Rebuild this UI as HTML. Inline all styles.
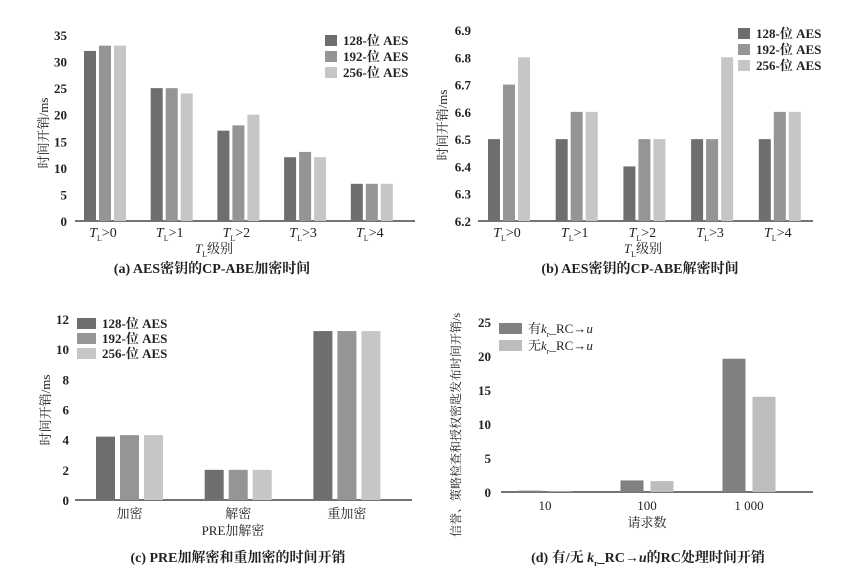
<!DOCTYPE html>
<html><head><meta charset="utf-8">
<style>
html,body{margin:0;padding:0;background:#fff;}
svg{display:block;font-family:"Liberation Serif","Noto Serif CJK SC",serif;}
</style></head>
<body>
<svg id="s" width="849" height="583" viewBox="0 0 849 583" xmlns="http://www.w3.org/2000/svg"></svg>
<script>
const colors3 = ['#6e6e6e','#959595','#c6c6c6'];
const colors2 = ['#808080','#bdbdbd'];
const seriesNames = ['128-位 AES','192-位 AES','256-位 AES'];

const catsA = ['>0','>1','>2','>3','>4'];
const aS1 = [32,25,17,12,7];
const aS2 = [33,25,18,13,7];
const aS3 = [33,24,20,12,7];
const aTicks = [0,5,10,15,20,25,30,35];

const catsB = ['>0','>1','>2','>3','>4'];
const bS1 = [6.5,6.5,6.4,6.5,6.5];
const bS2 = [6.7,6.6,6.5,6.5,6.6];
const bS3 = [6.8,6.6,6.5,6.8,6.6];
const bTicks = [6.2,6.3,6.4,6.5,6.6,6.7,6.8,6.9];

const catsC = ['加密','解密','重加密'];
const cS1 = [4.2,2,11.2];
const cS2 = [4.3,2,11.2];
const cS3 = [4.3,2,11.2];
const cTicks = [0,2,4,6,8,10,12];

const catsD = ['10','100','1 000'];
const dS1 = [0.2,1.7,19.6];
const dS2 = [0.05,1.6,14];
const dTicks = [0,5,10,15,20,25];

const NS='http://www.w3.org/2000/svg';
const svg=document.getElementById('s');
function mk(tag,attrs,parent){const e=document.createElementNS(NS,tag);for(const k in attrs)e.setAttribute(k,attrs[k]);(parent||svg).appendChild(e);return e;}
function txt(s,attrs,parent){const e=mk('text',attrs,parent);e.textContent=s;return e;}

function chart(o){
  const g=mk('g',{});
  
  
  const y=v=>o.y0-(v-o.vmin)/(o.vmax-o.vmin)*(o.y0-o.ytop);
  o.ticks.forEach(t=>{
    const l=txt(String(t),{x:o.tx,y:y(t)+5,'text-anchor':'end','font-size':13,'font-weight':'bold',fill:'#222'},g);
    
    
  });
  const ax=mk('line',{x1:o.ax1,x2:o.ax2,y1:o.y0,y2:o.y0,stroke:'#222','stroke-width':1.2},g);
  
  
  const n=o.series.length;
  o.cats.forEach((c,i)=>{
    const cx=o.c0+i*o.cstep;
    o.series.forEach((s,j)=>{
      const bx=cx+(j-(n-1)/2)*o.bstep-o.bw/2;
      const top=y(s[i]);
      const r=mk('rect',{x:bx,y:top,width:o.bw,height:Math.max(0,o.y0-top),fill:o.colors[j]},g);
      
      
    });
    let lab;
    if(o.tl){
      lab=txt('',{x:cx-2,y:o.y0+16,'text-anchor':'middle','font-size':14,fill:'#222'},g);
      const t1=mk('tspan',{'font-style':'italic'},lab);t1.textContent='T';
      const t2=mk('tspan',{'font-size':8,dy:4},lab);t2.textContent='L';
      const t3=mk('tspan',{dy:-4},lab);t3.textContent=c;
    } else {
      lab=txt(c,{x:cx,y:o.y0+18,'text-anchor':'middle','font-size':13,fill:'#222'},g);
    }
    
    
  });
  o.legend.forEach((name,j)=>{
    const ly=o.ly+j*o.lstep;
    const sq=mk('rect',{x:o.lx,y:ly,width:o.lw,height:11,fill:o.colors[j]},g);
    
    
    const lt=txt('',{x:o.lx+o.lw+6,y:ly+10,'font-size':13,'font-weight':o.lbold?'bold':'normal',fill:'#222'},g);
    lt.innerHTML=name;
    
    
  });
  const yl=txt(o.ylabel,{transform:`translate(${o.ylx},${o.yly}) rotate(-90)`,'text-anchor':'middle','font-size':o.ylsize||13,fill:'#222'},g);
  
  
  const xl=txt('',{x:o.xlx,y:o.xly,'text-anchor':'middle','font-size':13,fill:'#222'},g);
  xl.innerHTML=o.xlabel;
  
  
  const cap=txt('',{x:o.capx,y:o.capy,'text-anchor':'middle','font-size':14,'font-weight':'bold',fill:'#222'},g);
  cap.innerHTML=o.caption;
  
  
}

const tlx='<tspan font-style="italic">T</tspan><tspan font-size="8" dy="4">L</tspan><tspan dy="-4">级别</tspan>';
chart({name:'chart-a',cats:catsA,series:[aS1,aS2,aS3],colors:colors3,ticks:aTicks,vmin:0,vmax:35,y0:221,ytop:35,tx:67,ax1:75,ax2:415,c0:105,cstep:66.7,bw:12,bstep:15,tl:true,
  legend:seriesNames,lx:325,ly:35,lstep:16,lw:12,lbold:true,ylabel:'时间开销/ms',ylx:48,yly:133,xlabel:tlx,xlx:214,xly:253,caption:'(a) AES密钥的CP-ABE加密时间',capx:212,capy:273});
chart({name:'chart-b',cats:catsB,series:[bS1,bS2,bS3],colors:colors3,ticks:bTicks,vmin:6.2,vmax:6.9,y0:221,ytop:30,tx:471,ax1:478,ax2:813,c0:509,cstep:67.7,bw:12,bstep:15,tl:true,
  legend:seriesNames,lx:738,ly:28,lstep:16,lw:12,lbold:true,ylabel:'时间开销/ms',ylx:447,yly:125,xlabel:tlx,xlx:643,xly:253,caption:'(b) AES密钥的CP-ABE解密时间',capx:640,capy:273});
chart({name:'chart-c',cats:catsC,series:[cS1,cS2,cS3],colors:colors3,ticks:cTicks,vmin:0,vmax:12,y0:500,ytop:319,tx:69,ax1:75,ax2:412,c0:129.5,cstep:108.7,bw:19,bstep:24,tl:false,
  legend:seriesNames,lx:77,ly:318,lstep:15,lw:19,lbold:true,ylabel:'时间开销/ms',ylx:50,yly:410,xlabel:'PRE加解密',xlx:233,xly:535,caption:'(c) PRE加解密和重加密的时间开销',capx:238,capy:562});
chart({name:'chart-d',cats:catsD,series:[dS1,dS2],colors:colors2,ticks:dTicks,vmin:0,vmax:25,y0:492,ytop:322,tx:491,ax1:501,ax2:813,c0:545,cstep:102,bw:23,bstep:30,tl:false,
  legend:['有<tspan font-style="italic">k</tspan><tspan font-size="8" dy="4">r</tspan><tspan dy="-4">_RC→</tspan><tspan font-style="italic">u</tspan>','无<tspan font-style="italic">k</tspan><tspan font-size="8" dy="4">r</tspan><tspan dy="-4">_RC→</tspan><tspan font-style="italic">u</tspan>'],
  lx:499,ly:323,lstep:17,lw:23,lbold:false,ylabel:'信誉、策略检查和授权密匙发布时间开销/s',ylsize:12,ylx:460,yly:425,xlabel:'请求数',xlx:647,xly:527,
  caption:'(d) 有/无 <tspan font-style="italic">k</tspan><tspan font-size="8" dy="4">r</tspan><tspan dy="-4">_RC→</tspan><tspan font-style="italic">u</tspan>的RC处理时间开销',capx:648,capy:562});
</script>
</body></html>
